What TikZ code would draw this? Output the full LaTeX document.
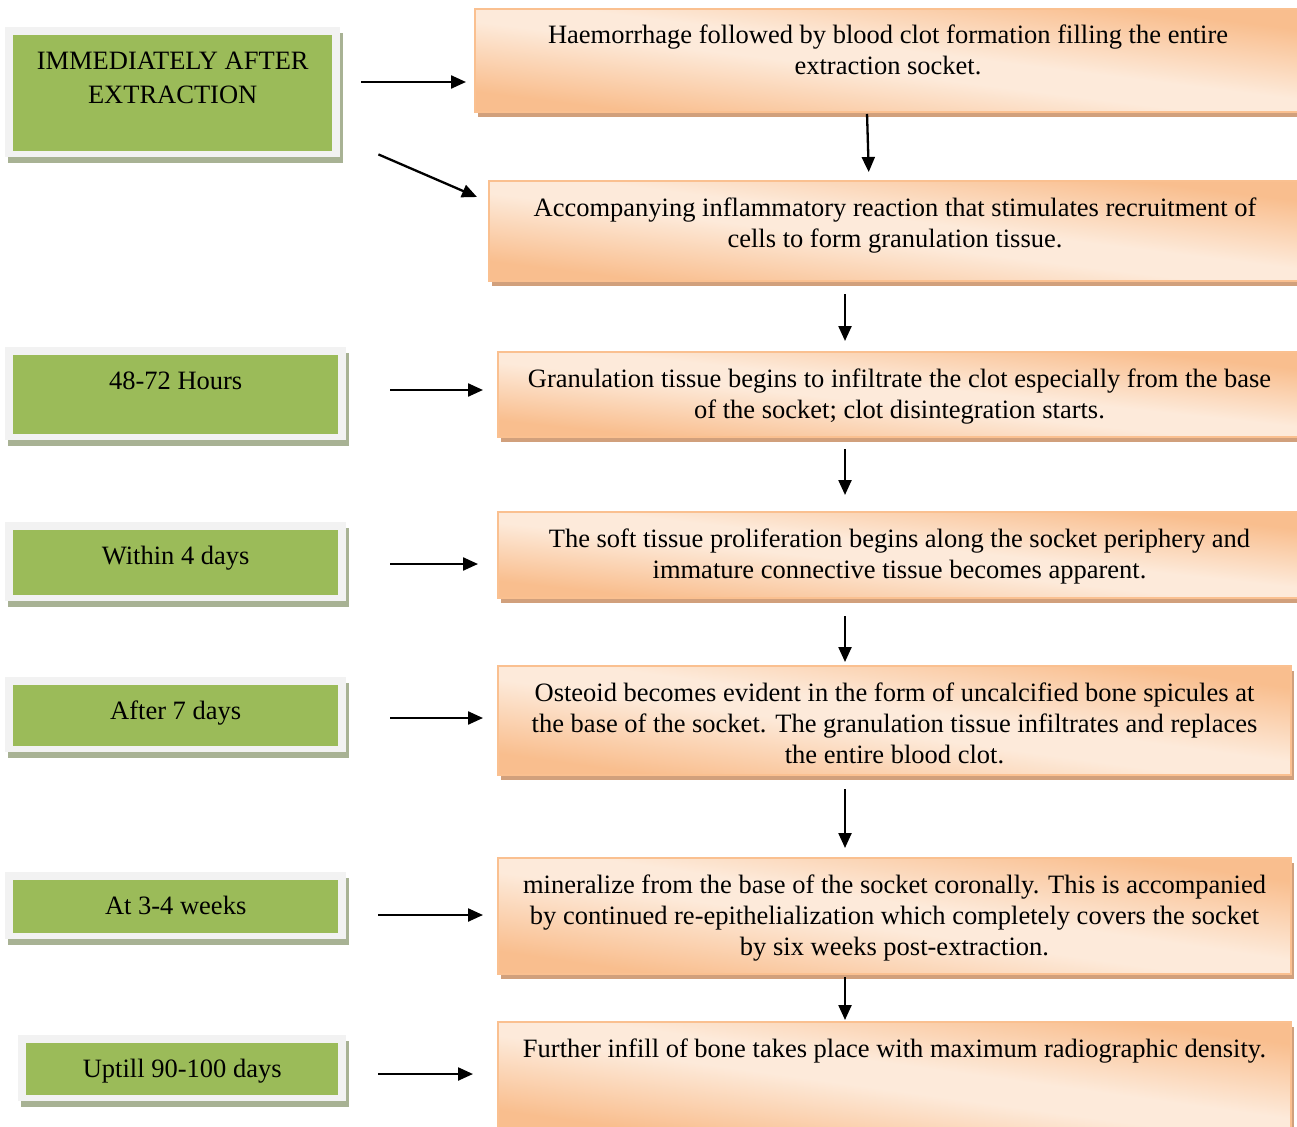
\documentclass[tikz,border=0pt]{standalone}
\usepackage{fontspec}
\setmainfont{Liberation Serif}
\usetikzlibrary{arrows.meta,shadows,calc}
\definecolor{pkB}{RGB}{250,192,144}
\definecolor{pkS}{RGB}{209,160,124}
\definecolor{gnF}{RGB}{155,187,89}
\definecolor{gnR}{RGB}{242,242,242}
\definecolor{gnS}{RGB}{168,178,148}
% diagonal peach gradient: light band from top-left to bottom-right, orange at the other corners
\pgfdeclarefunctionalshading{peach}{\pgfpointorigin}{\pgfpoint{100bp}{100bp}}{}{
add 100 sub abs 6 sub 34 div
dup 0 lt {pop 0} if
dup 1 gt {pop 1} if
dup -0.016 mul 0.992 add
exch
dup -0.173 mul 0.918 add
exch
-0.298 mul 0.855 add
}
\newcommand{\obx}[3]{\parbox[c][#2pt][t]{#1pt}{\centering\fontsize{26.5}{31}\selectfont\rule{0pt}{35pt}#3\par}}
\newcommand{\gbx}[3]{\parbox[c][#2pt][t]{#1pt}{\centering\fontsize{26.5}{34}\selectfont\rule{0pt}{42pt}#3\par}}
\tikzset{
  gstyle/.style={inner sep=0pt, anchor=north west, fill=gnR,
    drop shadow={shadow xshift=3pt, shadow yshift=-6pt, fill=gnS, opacity=1},
    path picture={\fill[gnF] ([shift={(8pt,-8pt)}]path picture bounding box.north west) rectangle ([shift={(-8pt,6pt)}]path picture bounding box.south east);}},
  ostyle/.style={inner sep=0pt, anchor=north west, draw=pkB, line width=2pt,
    shading=peach,
    drop shadow={shadow xshift=3pt, shadow yshift=-5pt, fill=pkS, opacity=1}},
  arr/.style={line width=2.3pt, -{Triangle[length=15pt,width=13pt]}}
}
\begin{document}
\begin{tikzpicture}[x=1pt,y=-1pt]
\fill[white] (0,0) rectangle (1297,1126);
\useasboundingbox (0,0) rectangle (1297,1126);

% green stage boxes
\node[gstyle] (g1) at (5,27) {\gbx{335}{130}{IMMEDIATELY AFTER\\EXTRACTION}};
\node[gstyle] (g2) at (5,347) {\gbx{341}{93}{48-72 Hours}};
\node[gstyle] (g3) at (5,522) {\gbx{341}{79}{Within 4 days}};
\node[gstyle] (g4) at (5,677) {\gbx{341}{75}{After 7 days}};
\node[gstyle] (g5) at (5,872) {\gbx{341}{67}{At 3-4 weeks}};
\node[gstyle] (g6) at (18,1035) {\gbx{328}{66}{Uptill 90-100 days}};

% orange description boxes
\node[ostyle] (o1) at (474,8) {\obx{826}{103}{Haemorrhage followed by blood clot formation filling the entire\\extraction socket.}};
\node[ostyle] (o2) at (488,180) {\obx{812}{100}{Accompanying inflammatory reaction that stimulates recruitment of\\cells to form granulation tissue.}};
\node[ostyle] (o3) at (497,351) {\obx{803}{85}{Granulation tissue begins to infiltrate the clot especially from the base\\of the socket; clot disintegration starts.}};
\node[ostyle] (o4) at (497,511) {\obx{803}{86}{The soft tissue proliferation begins along the socket periphery and\\immature connective tissue becomes apparent.}};
\node[ostyle] (o5) at (497,665) {\obx{793}{109}{Osteoid becomes evident in the form of uncalcified bone spicules at\\the base of the socket. The granulation tissue infiltrates and replaces\\the entire blood clot.}};
\node[ostyle] (o6) at (497,857) {\obx{793}{116}{mineralize from the base of the socket coronally. This is accompanied\\by continued re-epithelialization which completely covers the socket\\by six weeks post-extraction.}};
\node[ostyle] (o7) at (497,1021) {\obx{793}{110}{Further infill of bone takes place with maximum radiographic density.}};

% horizontal arrows
\draw[arr, shorten <=21pt, shorten >=8pt] (g1.east |- 0,82) -- (o1.west |- 0,82);
\draw[arr] ($(g1.south east)+(38,-3)$) -- ($(o2.north west)+(-11,17)$);
\draw[arr, shorten <=44pt, shorten >=14pt] (g2.east |- 0,390) -- (o3.west |- 0,390);
\draw[arr, shorten <=44pt, shorten >=19pt] (g3.east |- 0,564) -- (o4.west |- 0,564);
\draw[arr, shorten <=44pt, shorten >=14pt] (g4.east |- 0,718) -- (o5.west |- 0,718);
\draw[arr, shorten <=32pt, shorten >=14pt] (g5.east |- 0,915) -- (o6.west |- 0,915);
\draw[arr, shorten <=32pt, shorten >=24pt] (g6.east |- 0,1074) -- (o7.west |- 0,1074);

% vertical arrows
\draw[arr, shorten <=1pt, shorten >=8pt] ($(o1.south)+(-21,0)$) -- ($(o2.north)+(-26,0)$);
\draw[arr, shorten <=12pt, shorten >=10pt] (o2.south -| 845,0) -- (o3.north -| 845,0);
\draw[arr, shorten <=11pt, shorten >=16pt] (o3.south -| 845,0) -- (o4.north -| 845,0);
\draw[arr, shorten <=17pt, shorten >=3pt] (o4.south -| 845,0) -- (o5.north -| 845,0);
\draw[arr, shorten <=13pt, shorten >=9pt] (o5.south -| 845,0) -- (o6.north -| 845,0);
\draw[arr, shorten <=2pt, shorten >=1pt] (o6.south -| 845,0) -- (o7.north -| 845,0);
\end{tikzpicture}
\end{document}
